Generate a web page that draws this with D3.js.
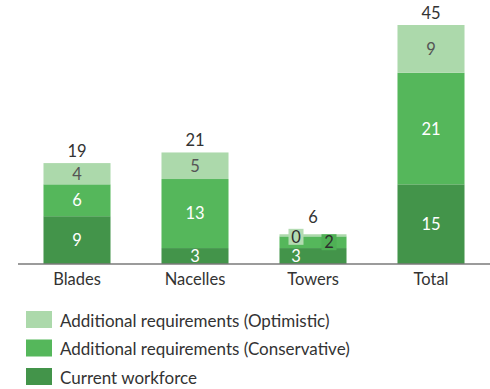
<!DOCTYPE html>
<html>
<head>
<meta charset="utf-8">
<script src="https://cdn.jsdelivr.net/npm/d3@7"></script>
<style>
  html, body { margin: 0; padding: 0; background: #fff; }
  svg { display: block; font-family: Lato, "Open Sans", sans-serif; }
</style>
</head>
<body>
<svg id="chart" width="490" height="389"></svg>
<script>
// Workforce by component (stacked)
const categories = ["Blades", "Nacelles", "Towers", "Total"];
const currentWorkforce = [9, 3, 3, 15];
const conservative = [6, 13, 2.2, 21];
const optimistic = [4, 5, 0.4, 9];

const seriesNames = [
  "Current workforce",
  "Additional requirements (Conservative)",
  "Additional requirements (Optimistic)"
];
const seriesColors = ["#43944a", "#55b75b", "#acd9ab"];
const labelColors = ["#ffffff", "#ffffff", "#555555"];

const rows = categories.map((c, i) => ({
  category: c,
  current: currentWorkforce[i],
  conservative: conservative[i],
  optimistic: optimistic[i]
}));
const keys = ["current", "conservative", "optimistic"];
const stack = d3.stack().keys(keys)(rows);

const svg = d3.select("#chart");
const baseY = 264;
const labelSize = 16.5;

const x = d3.scaleBand()
  .domain(categories)
  .range([18, 490])
  .paddingInner(0.432)
  .paddingOuter(0.216);

const y = d3.scaleLinear()
  .domain([0, 45])
  .range([baseY, 25]);

// Stacked segments
const layers = svg.append("g").selectAll("g")
  .data(stack)
  .join("g")
  .attr("fill", (d, i) => seriesColors[i]);

layers.selectAll("rect")
  .data(d => d)
  .join("rect")
  .attr("x", d => x(d.data.category))
  .attr("width", x.bandwidth())
  .attr("y", d => y(d[1]))
  .attr("height", d => y(d[0]) - y(d[1]));

// Baseline axis
const axis = svg.append("g")
  .attr("transform", `translate(0,${baseY})`)
  .call(d3.axisBottom(x).tickSize(0).tickPadding(9));
axis.select(".domain").attr("stroke", "#7a7a7a").attr("stroke-width", 1.6)
  .attr("d", `M18,0H490`);
axis.selectAll(".tick text")
  .attr("font-family", "Lato, sans-serif")
  .attr("font-size", labelSize)
  .attr("fill", "#333");

// Segment value labels
const fmt = v => String(Math.round(v));
const labelTop = {};   // highest label box per column, so totals sit above it
const labelG = svg.append("g").attr("font-size", labelSize).attr("text-anchor", "middle");
stack.forEach((layer, li) => {
  layer.forEach(d => {
    const cat = d.data.category;
    const cx = x(cat) + x.bandwidth() / 2;
    const cy = (y(d[0]) + y(d[1])) / 2;
    const col = rows.find(r => r.category === cat);
    const thin = keys.some(k => (y(0) - y(col[k])) < 14);
    if (!thin) {
      labelG.append("text")
        .attr("x", cx).attr("y", cy).attr("dy", "0.36em")
        .attr("fill", labelColors[li])
        .text(fmt(d[1] - d[0]));
    } else {
      // thin segments: stagger labels left/right with a backing box
      const dx = li === 1 ? 16 : -17;
      const ly = li === 2 ? cy + 1.5 : cy;
      if (li > 0) {
        labelG.append("rect")
          .attr("x", cx + dx - 7.5).attr("y", ly - 8)
          .attr("width", 15).attr("height", 16)
          .attr("fill", li === 2 ? "#b3dcb2" : "#4fb055");
        labelTop[cat] = Math.min(labelTop[cat] ?? Infinity, ly - 8);
      }
      labelG.append("text")
        .attr("x", cx + dx).attr("y", ly).attr("dy", "0.36em")
        .attr("fill", li === 0 ? "#ffffff" : "#2e2e2e")
        .text(fmt(d[1] - d[0]));
    }
  });
});

// Column totals
const topLayer = stack[stack.length - 1];
svg.append("g").attr("font-size", labelSize).attr("text-anchor", "middle")
  .selectAll("text")
  .data(topLayer)
  .join("text")
  .attr("x", d => x(d.data.category) + x.bandwidth() / 2)
  .attr("y", d => Math.min(y(d[1]) - 6.5, (labelTop[d.data.category] ?? Infinity) - 6))
  .attr("fill", "#333")
  .text(d => fmt(d[1]));

// Legend
const legendOrder = [2, 1, 0];
const legend = svg.append("g").attr("transform", "translate(26,311)");
legendOrder.forEach((si, i) => {
  const g = legend.append("g").attr("transform", `translate(0,${i * 28.5})`);
  g.append("rect").attr("width", 26).attr("height", 17).attr("fill", seriesColors[si]);
  g.append("text").attr("x", 34).attr("y", 9.5).attr("dy", "0.36em")
    .attr("font-size", 17).attr("fill", "#333")
    .text(seriesNames[si]);
});
</script>
</body>
</html>
